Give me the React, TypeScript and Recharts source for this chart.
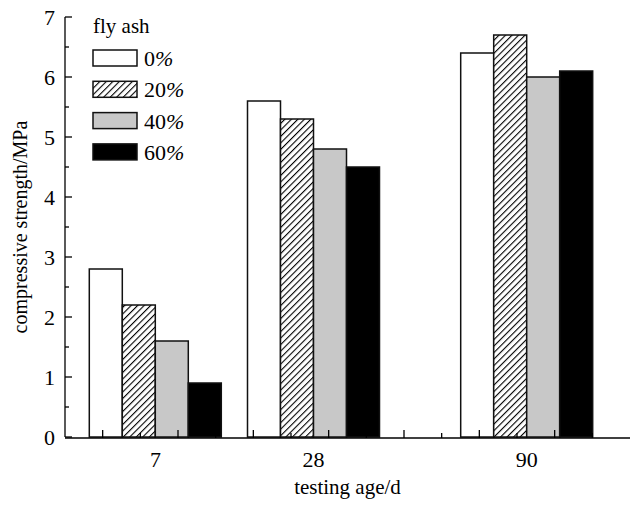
import { BarChart, Bar, XAxis, YAxis, Legend } from "recharts";

const ages = ["7", "28", "90"];
const agePositions = [1.2, 3.3, 6.13];
const flyAsh0 = [2.8, 5.6, 6.4];
const flyAsh20 = [2.2, 5.3, 6.7];
const flyAsh40 = [1.6, 4.8, 6.0];
const flyAsh60 = [0.9, 4.5, 6.1];
const seriesNames = ["0%", "20%", "40%", "60%"];
const yTicks = [0, 0.5, 1, 1.5, 2, 2.5, 3, 3.5, 4, 4.5, 5, 5.5, 6, 6.5, 7];
const xMinorTicks = [0.5, 1, 1.5, 2, 2.5, 3, 3.5, 4, 4.5, 5, 5.5, 6, 6.5, 7];

const data = ages.map((age, i) => ({
  age,
  pos: agePositions[i],
  s0: flyAsh0[i],
  s20: flyAsh20[i],
  s40: flyAsh40[i],
  s60: flyAsh60[i],
}));

const FONT = "'Liberation Serif', 'Times New Roman', serif";
const fills = ["#ffffff", "url(#hatch)", "#c8c8c8", "#000000"];
const keys = ["s0", "s20", "s40", "s60"];

function YTick({ x, y, payload }: any) {
  const v = payload.value;
  const major = Number.isInteger(v);
  return (
    <g>
      <line x1={x} x2={x + (major ? 7 : 4)} y1={y} y2={y} stroke="#000" strokeWidth={1.3} />
      {major && (
        <text x={x - 10} y={y} textAnchor="end" dominantBaseline="central" fontFamily={FONT} fontSize={22} fill="#000">
          {v}
        </text>
      )}
    </g>
  );
}

function XMinorTick({ x, y, payload }: any) {
  const major = Math.round(payload.value * 2) % 2 === 1;
  return <line x1={x} x2={x} y1={y} y2={y - (major ? 8 : 5)} stroke="#000" strokeWidth={1.3} />;
}

function XLabelTick({ x, y, payload }: any) {
  const i = agePositions.indexOf(payload.value);
  return (
    <text x={x} y={y + 30} textAnchor="middle" fontFamily={FONT} fontSize={22} fill="#000">
      {ages[i]}
    </text>
  );
}

function LegendBox() {
  return (
    <svg width={140} height={170}>
      <defs>
        <pattern id="hatchLegend" patternUnits="userSpaceOnUse" width={4.6} height={4.6} patternTransform="rotate(45)">
          <rect width={4.6} height={4.6} fill="#fff" />
          <line x1={0} y1={0} x2={0} y2={4.6} stroke="#000" strokeWidth={2.2} />
        </pattern>
      </defs>
      <text x={5} y={25} fontFamily={FONT} fontSize={21} fill="#000">fly ash</text>
      {seriesNames.map((name, i) => {
        const top = 42 + i * 31.3;
        return (
          <g key={name}>
            <rect
              x={5}
              y={top}
              width={44}
              height={16}
              fill={i === 1 ? "url(#hatchLegend)" : fills[i]}
              stroke="#111"
              strokeWidth={1.5}
            />
            <text x={56} y={top + 16} fontFamily={FONT} fontSize={22} fill="#000">
              {name.replace("%", "")}
              <tspan fontStyle="italic">%</tspan>
            </text>
          </g>
        );
      })}
    </svg>
  );
}

export default function App() {
  return (
    <div style={{ position: "absolute", left: 0, top: 0, background: "#fff" }}>
      <BarChart
        width={630}
        height={505}
        data={data}
        margin={{ top: 17, right: 0, bottom: 66, left: 0 }}
        barGap={0}
      >
        <defs>
          <pattern id="hatch" patternUnits="userSpaceOnUse" width={4.6} height={4.6} patternTransform="rotate(45)">
            <rect width={4.6} height={4.6} fill="#fff" />
            <line x1={0} y1={0} x2={0} y2={4.6} stroke="#000" strokeWidth={2.2} />
          </pattern>
        </defs>
        <XAxis
          xAxisId="ticks"
          dataKey="pos"
          type="number"
          domain={[0, 7.5]}
          ticks={xMinorTicks}
          interval={0}
          height={1}
          tickSize={0}
          tickMargin={0}
          tickLine={false}
          tick={<XMinorTick />}
          axisLine={{ stroke: "#000", strokeWidth: 1.3 }}
        />
        <XAxis
          xAxisId="bars"
          dataKey="pos"
          type="number"
          domain={[0, 7.5]}
          ticks={agePositions}
          interval={0}
          height={1}
          tickSize={0}
          tickMargin={0}
          tickLine={false}
          axisLine={false}
          tick={<XLabelTick />}
          label={({ viewBox }: any) => (
            <text
              x={viewBox.x + viewBox.width / 2}
              y={viewBox.y + 57}
              textAnchor="middle"
              fontFamily={FONT}
              fontSize={21}
              fill="#000"
            >
              testing age/d
            </text>
          )}
        />
        <YAxis
          width={65}
          type="number"
          domain={[0, 7]}
          ticks={yTicks}
          interval={0}
          tickSize={0}
          tickMargin={0}
          tickLine={false}
          tick={<YTick />}
          axisLine={{ stroke: "#000", strokeWidth: 1.3 }}
          label={({ viewBox }: any) => {
            const cx = 20;
            const cy = viewBox.y + viewBox.height / 2;
            return (
              <text
                x={cx}
                y={cy}
                transform={`rotate(-90 ${cx} ${cy})`}
                textAnchor="middle"
                dominantBaseline="central"
                fontFamily={FONT}
                fontSize={20}
                fill="#000"
              >
                compressive strength/MPa
              </text>
            );
          }}
        />
        <Legend
          layout="vertical"
          align="center"
          verticalAlign="middle"
          wrapperStyle={{ left: 88, top: 8, width: 140, height: 170 }}
          content={() => <LegendBox />}
        />
        {keys.map((k, i) => (
          <Bar
            key={k}
            xAxisId="bars"
            dataKey={k}
            name={seriesNames[i]}
            fill={fills[i]}
            stroke="#111"
            strokeWidth={1.5}
            barSize={33}
            isAnimationActive={false}
          />
        ))}
      </BarChart>
    </div>
  );
}
